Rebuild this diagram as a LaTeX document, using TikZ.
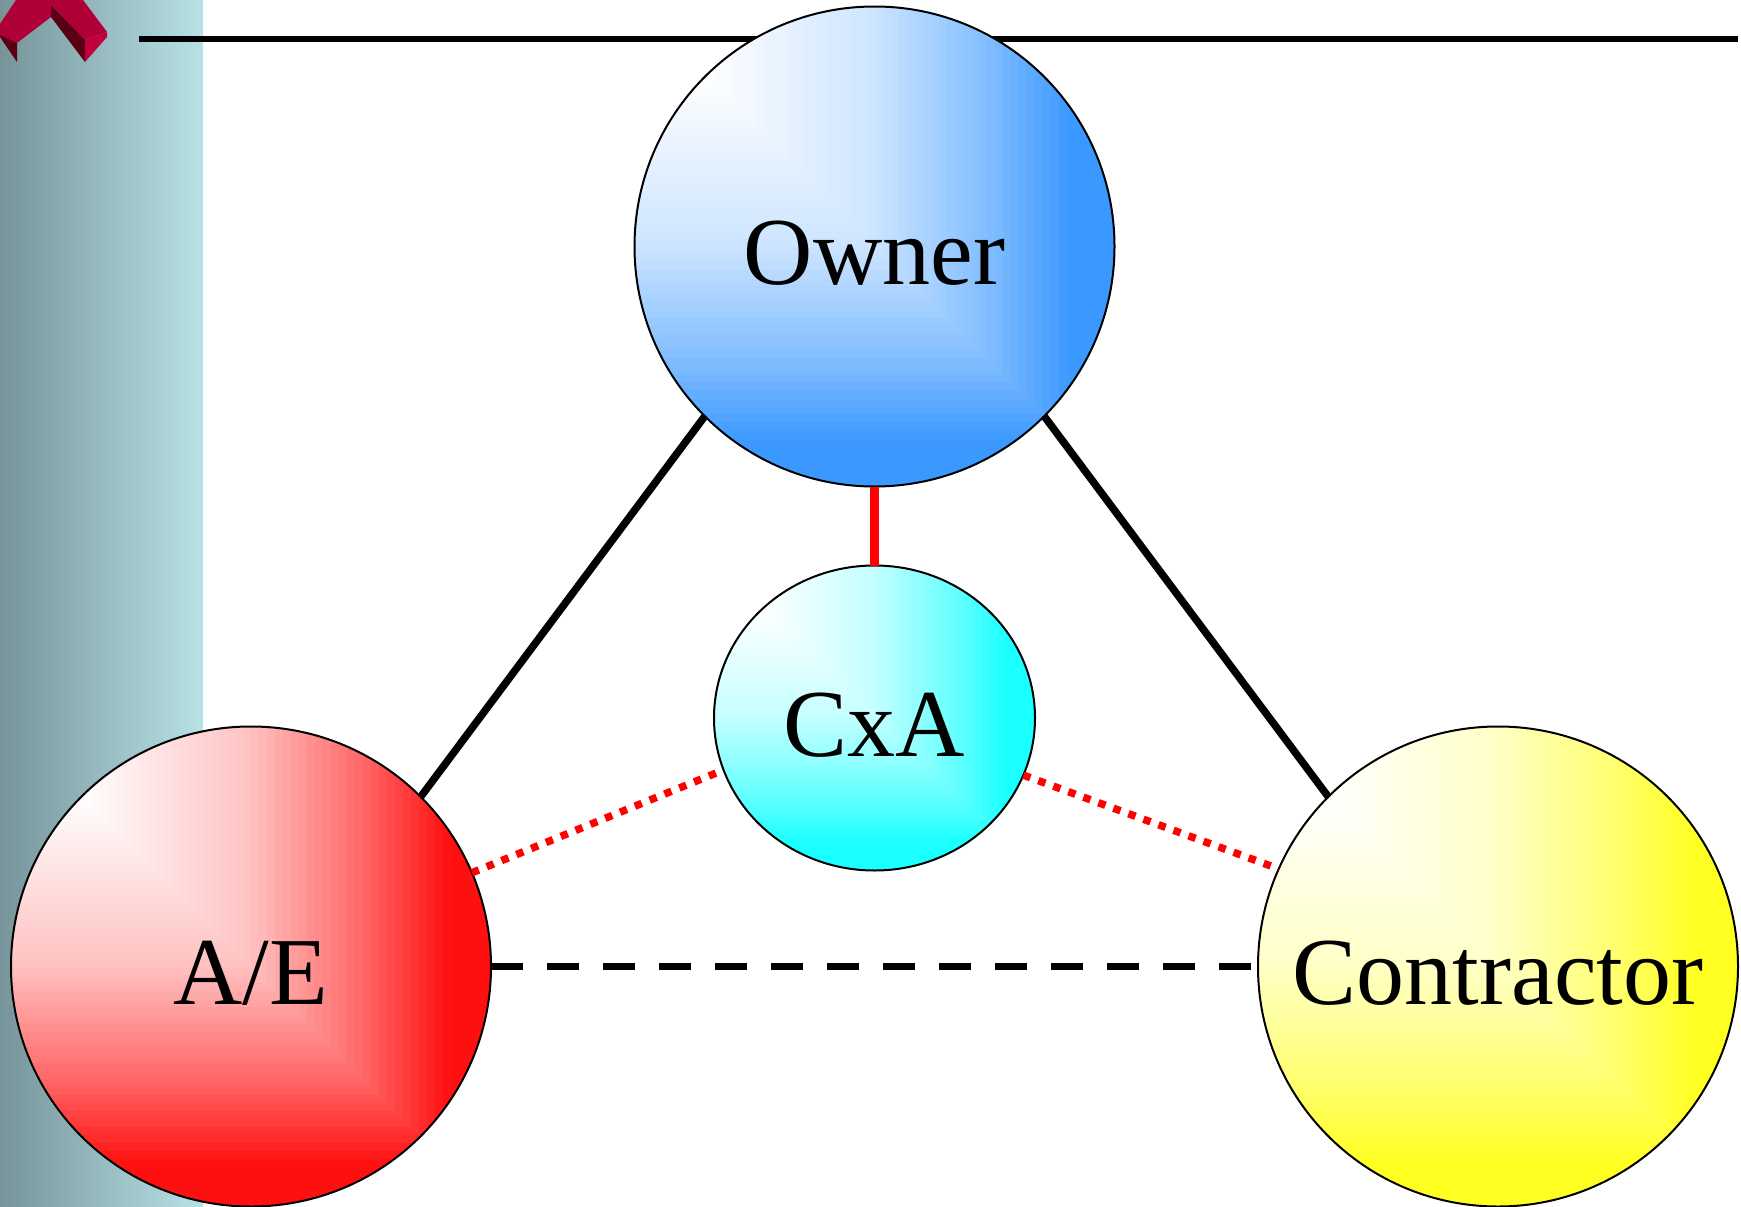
\documentclass[tikz,border=0pt]{standalone}
\usepackage{fontspec}
\setmainfont{Liberation Serif}
\usetikzlibrary{shapes.geometric,calc}
\definecolor{ownerblue}{HTML}{3A98FF}
\definecolor{aered}{HTML}{FF1010}
\definecolor{contyellow}{HTML}{FFFF22}
\definecolor{cxacyan}{HTML}{1AFFFF}
\definecolor{bandleft}{HTML}{76949A}
\definecolor{bandright}{HTML}{B8E2E6}
\definecolor{chevbright}{HTML}{B00038}
\definecolor{chevdark}{HTML}{5A0012}
\definecolor{chevfront}{HTML}{C2003E}
% "from corner" gradient: nested squares from the top-left corner of the shape
\newcommand{\cornerfill}[1]{%
  \foreach \k in {60,59,...,1}{%
    \pgfmathsetmacro{\cfT}{\k/60}%
    \pgfmathsetmacro{\cfP}{\cfT<=0.15 ? 0 : (\cfT<=0.5 ? (\cfT-0.15)/0.35*25 : (\cfT<=0.75 ? 25+(\cfT-0.5)/0.25*40 : (\cfT<=0.92 ? 65+(\cfT-0.75)/0.17*35 : 100)))}%
    \fill[#1!\cfP!white] (path picture bounding box.north west) rectangle
      ($(path picture bounding box.north west)!\cfT!(path picture bounding box.south east)$);
  }%
}
\begin{document}
\begin{tikzpicture}[x=1pt,y=-1pt,
  bubble/.style={draw=black, line width=2pt, inner sep=0pt, outer sep=0pt,
    font=\fontsize{96}{100}\selectfont, text height=76pt, text depth=0pt,
    path picture={\cornerfill{#1}}},
  party/.style={bubble=#1, circle, minimum size=480pt},
  link/.style={line width=7.5pt, black},
  redlink/.style={line width=8.5pt, red},
  dotlink/.style={line width=7.5pt, red, dash pattern=on 7.5pt off 8.5pt},
  dashlink/.style={line width=7.5pt, black, dash pattern=on 32pt off 24pt}]
\useasboundingbox (0,0) rectangle (1741,1207);
% left band
\shade[left color=bandleft, right color=bandright] (0,0) rectangle (203,1207);
% chevron
\fill[chevbright] (0,24) -- (16,0) -- (51,0) -- (51,17) -- (17,43) -- (0,35) -- cycle;
\fill[chevdark] (0,35) -- (17,43) -- (17,62) -- (0,37) -- cycle;
\fill[chevbright] (51,0) -- (83,0) -- (107,32) -- (85,40) -- (51,5) -- cycle;
\fill[chevdark] (51,5) -- (85,40) -- (85,62) -- (51,17) -- cycle;
\fill[chevfront] (85,40) -- (107,32) -- (107,37) -- (85,62) -- cycle;
% top rule
\draw[line width=6.5pt] (139,39) -- (1738,39);
% nodes
\node[party=ownerblue] (owner) at (874.5,246.5) {Owner};
\node[party=aered] (ae) at (251,966.5) {A/E};
\node[party=contyellow] (cont) at (1498,966.5) {Contractor};
\node[bubble=cxacyan, ellipse, minimum width=321pt, minimum height=305pt] (cxa) at (874.5,718) {CxA};
% connectors
\draw[link] (owner.225) -- (ae.45);
\draw[link] (owner.-45) -- (cont.135);
\draw[redlink] (owner.south) -- (cxa.north);
\draw[dotlink] (ae.23.3) -- (cxa.199);
\draw[dotlink] (cxa.-21.7) -- (cont.156.6);
\draw[dashlink] (ae.east) -- (cont.west);
\end{tikzpicture}
\end{document}
